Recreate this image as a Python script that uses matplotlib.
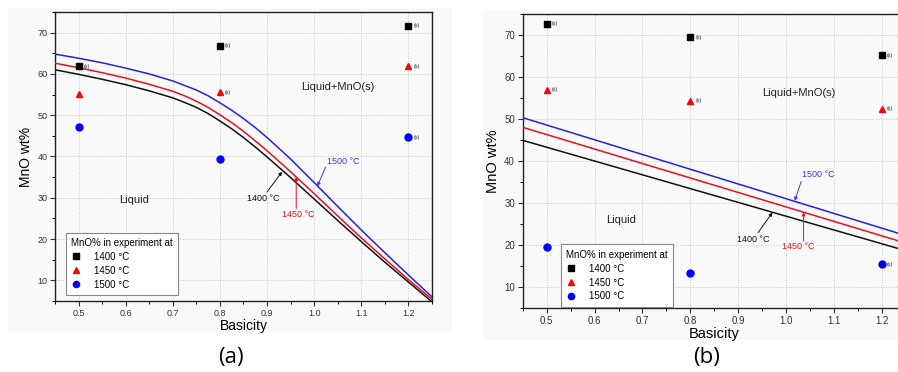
import numpy as np
import matplotlib
matplotlib.use('Agg')
import matplotlib.pyplot as plt
from matplotlib.patches import Rectangle
from matplotlib.ticker import MultipleLocator

plt.rcParams['font.family'] = ['Liberation Sans', 'DejaVu Sans']

#liquidus curves, panel (a)
basicity_a = [0.45, 0.50, 0.55, 0.60, 0.65, 0.70, 0.725, 0.75, 0.775, 0.80, 0.825, 0.85,
              0.875, 0.90, 0.95, 1.00, 1.05, 1.10, 1.15, 1.20, 1.25]
liq_1400_a = [61.0, 59.9, 58.7, 57.4, 55.9, 54.2, 53.1, 51.9, 50.4, 48.6, 46.7, 44.6,
              42.3, 39.9, 34.9, 29.7, 24.5, 19.4, 14.4, 9.6, 4.8]
liq_1450_a = [62.6, 61.5, 60.3, 59.0, 57.5, 55.8, 54.7, 53.4, 51.9, 50.1, 48.2, 46.1,
              43.8, 41.4, 36.3, 31.0, 25.6, 20.3, 15.2, 10.2, 5.4]
liq_1500_a = [64.8, 63.8, 62.7, 61.4, 60.0, 58.3, 57.2, 56.1, 54.7, 53.0, 51.2, 49.2,
              47.0, 44.6, 39.4, 33.7, 27.9, 22.2, 16.7, 11.3, 6.0]

#liquidus lines, panel (b)
basicity_b = [0.45, 1.25]
liq_1400_b = [45.0, 18.7]
liq_1450_b = [48.1, 20.5]
liq_1500_b = [50.4, 22.3]

#experimental MnO%
basicity_exp = [0.5, 0.8, 1.2]
exp_1400_a = [61.9, 66.8, 71.7]
exp_1450_a = [55.2, 55.6, 61.9]
exp_1500_a = [47.1, 39.4, 44.7]
exp_1400_b = [72.8, 69.6, 65.3]
exp_1450_b = [57.0, 54.4, 52.5]
exp_1500_b = [19.7, 13.5, 15.5]

#samples where solid MnO was found
solid_1400_a = [True, True, True]
solid_1450_a = [False, True, True]
solid_1500_a = [False, False, True]
solid_1400_b = [True, True, True]
solid_1450_b = [True, True, True]
solid_1500_b = [False, False, True]

temps = ['1400 °C', '1450 °C', '1500 °C']
line_colours = ['#111111', '#e8111a', '#2323d8']
point_colours = ['black', '#ff0000', '#0000ff']
point_markers = ['s', '^', 'o']

fig = plt.figure(figsize=(8.98, 3.72), dpi=100)
fig.patch.set_facecolor('white')
fig.patches.append(Rectangle((0.009, 0.105), 0.494, 0.874, transform=fig.transFigure,
                             facecolor='#f9f9f9', edgecolor='none', zorder=-10))
fig.patches.append(Rectangle((0.538, 0.086), 0.462, 0.887, transform=fig.transFigure,
                             facecolor='#f9f9f9', edgecolor='none', zorder=-10))


def draw_panel(ax, basicity, curves, exps, solids, fs, legend_xy, notes, regions):
    ax.set_facecolor('none')
    for y, c in zip(curves, line_colours):
        ax.plot(basicity, y, color=c, lw=1.1, zorder=3)
    for i in range(3):
        ax.plot(basicity_exp, exps[i], ls='none', marker=point_markers[i],
                color=point_colours[i], ms=5 if i else 4.5, label=temps[i], zorder=4)
        for xx, yy, s in zip(basicity_exp, exps[i], solids[i]):
            if s:
                ax.annotate('(s)', (xx, yy), xytext=(3.5, 0), textcoords='offset points',
                            fontsize=3.8, va='center', ha='left', color='#222222')

    for (label, c, txt, tail, tip) in notes:
        ax.annotate('', xy=tip, xytext=tail,
                    arrowprops=dict(arrowstyle='-|>', color=c, lw=0.7, mutation_scale=5,
                                    shrinkA=0, shrinkB=0))
        ax.text(txt[0], txt[1], label, color=c, fontsize=6.5, ha='center', va='center')

    for (label, xy) in regions:
        ax.text(xy[0], xy[1], label, fontsize=8, ha='center', va='center', color='#222222')

    ax.set_xlim(0.45, 1.25)
    ax.set_ylim(5, 75)
    ax.xaxis.set_major_locator(MultipleLocator(0.1))
    ax.xaxis.set_minor_locator(MultipleLocator(0.05))
    ax.yaxis.set_major_locator(MultipleLocator(10))
    ax.yaxis.set_minor_locator(MultipleLocator(5))
    ax.set_xticks(np.arange(0.5, 1.21, 0.1))
    ax.set_yticks(np.arange(10, 71, 10))
    ax.grid(True, which='major', ls=(0, (1, 2)), color='#b8b8b8', lw=0.6)
    ax.tick_params(which='major', direction='out', length=3.5, width=0.8,
                   labelsize=fs, colors='#333333', pad=2)
    ax.tick_params(which='minor', direction='out', length=2, width=0.7)
    for sp in ax.spines.values():
        sp.set_linewidth(1.0)
        sp.set_color('#222222')
    ax.set_xlabel('Basicity', fontsize=fs + 3.5, labelpad=1)
    ax.set_ylabel('MnO wt%', fontsize=fs + 3.5, labelpad=3)

    leg = ax.legend(loc='lower left', bbox_to_anchor=legend_xy, borderaxespad=0,
                    title='MnO% in experiment at', fontsize=7, title_fontsize=7,
                    fancybox=False, edgecolor='#888888', framealpha=1,
                    handlelength=1.0, handletextpad=1.3, labelspacing=0.4,
                    borderpad=0.55, markerscale=0.9)
    leg.get_frame().set_linewidth(0.8)
    leg._legend_box.align = 'left'
    leg.set_zorder(5)


#panel (a): curved liquidus
ax_a = fig.add_axes([0.0612, 0.1909, 0.4198, 0.7769])
draw_panel(ax_a, basicity_a, [liq_1400_a, liq_1450_a, liq_1500_a],
           [exp_1400_a, exp_1450_a, exp_1500_a],
           [solid_1400_a, solid_1450_a, solid_1500_a], 6.5, (0.029, 0.021),
           [('1400 °C', line_colours[0], (0.891, 29.9), (0.900, 31.4), (0.932, 36.3)),
            ('1450 °C', line_colours[1], (0.966, 26.0), (0.962, 27.4), (0.962, 35.1)),
            ('1500 °C', '#3b3bd6', (1.062, 38.8), (1.024, 37.4), (1.007, 32.8))],
           [('Liquid+MnO(s)', (1.05, 56.9)), ('Liquid', (0.617, 29.5))])

#panel (b): straight liquidus
ax_b = fig.add_axes([0.582, 0.1712, 0.4271, 0.7903])
draw_panel(ax_b, basicity_b, [liq_1400_b, liq_1450_b, liq_1500_b],
           [exp_1400_b, exp_1450_b, exp_1500_b],
           [solid_1400_b, solid_1450_b, solid_1500_b], 7, (0.10, 0.005),
           [('1400 °C', line_colours[0], (0.930, 21.4), (0.941, 23.0), (0.971, 27.8)),
            ('1450 °C', line_colours[1], (1.0245, 19.7), (1.036, 21.0), (1.036, 27.9)),
            ('1500 °C', '#3b3bd6', (1.066, 36.8), (1.031, 35.2), (1.0176, 30.6))],
           [('Liquid+MnO(s)', (1.027, 56.3)), ('Liquid', (0.655, 26.0))])

fig.text(231 / 898, 1 - 358 / 372, '(a)', fontsize=16, ha='center', va='center',
         family=['Open Sans', 'DejaVu Sans'])
fig.text(706.7 / 898, 1 - 358 / 372, '(b)', fontsize=16, ha='center', va='center',
         family=['Open Sans', 'DejaVu Sans'])

plt.savefig('out.png', dpi=100)
plt.close()
